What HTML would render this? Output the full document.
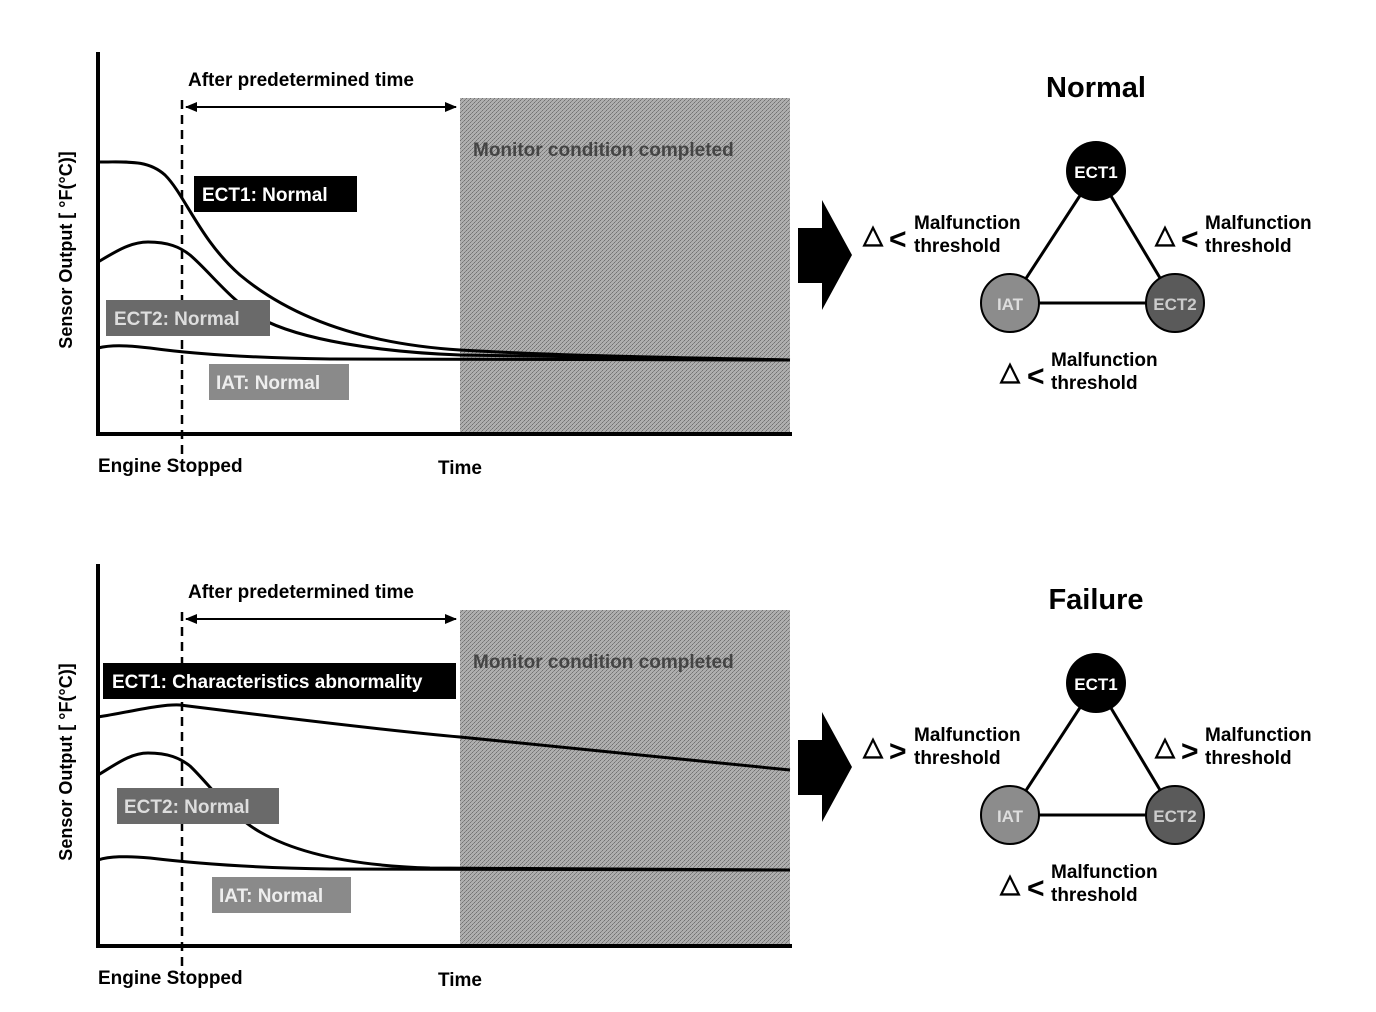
<!DOCTYPE html>
<html><head><meta charset="utf-8"><style>body{margin:0;background:#fff}svg{display:block}text{font-family:"Liberation Sans",Arial,sans-serif;font-weight:bold}</style></head><body>
<svg width="1376" height="1012" viewBox="0 0 1376 1012" xmlns="http://www.w3.org/2000/svg">
<defs>
<pattern id="dots" width="4" height="4" patternUnits="userSpaceOnUse"><rect width="4" height="4" fill="#bbb"/><rect x="0" y="0" width="1" height="1" fill="#444"/><rect x="2" y="2" width="1" height="1" fill="#444"/><rect x="1" y="3" width="1" height="1" fill="#666"/><rect x="3" y="1" width="1" height="1" fill="#666"/></pattern>
<marker id="ah" markerWidth="12" markerHeight="10" refX="11" refY="5" orient="auto" markerUnits="userSpaceOnUse"><path d="M0,0 L12,5 L0,10 z" fill="#000"/></marker>
<marker id="ahs" markerWidth="12" markerHeight="10" refX="1" refY="5" orient="auto" markerUnits="userSpaceOnUse"><path d="M12,0 L0,5 L12,10 z" fill="#000"/></marker>
<g id="panel">
<rect x="460" y="98" width="330" height="336" fill="#a0a0a0"/>
<rect x="460" y="98" width="330" height="336" fill="url(#dots)" opacity="0.5"/>
<text x="473" y="156" font-size="19" fill="#444">Monitor condition completed</text>
<line x1="98" y1="52" x2="98" y2="436" stroke="#000" stroke-width="4"/>
<line x1="96" y1="434" x2="792" y2="434" stroke="#000" stroke-width="4"/>
<line x1="182" y1="100" x2="182" y2="456" stroke="#000" stroke-width="2.5" stroke-dasharray="9,6"/>
<line x1="186" y1="107" x2="456" y2="107" stroke="#000" stroke-width="2" marker-end="url(#ah)" marker-start="url(#ahs)"/>
<text x="188" y="86" font-size="19">After predetermined time</text>
<text x="98" y="472" font-size="19">Engine Stopped</text>
<text x="438" y="474" font-size="19">Time</text>
<text transform="translate(72,250) rotate(-90)" text-anchor="middle" font-size="18">Sensor Output [ °F(°C)]</text>
</g>
</defs>
<use href="#panel"/>
<use href="#panel" y="512"/>
<g fill="none" stroke="#000" stroke-width="3">
<path d="M98,162 C130,162 148,160 165,175 C185,195 200,240 240,275 C300,325 380,345 460,350 C560,356 700,358 790,360"/>
<path d="M98,262 C115,252 130,242 148,242 C168,242 180,247 190,255 C210,272 230,300 260,318 C300,340 380,352 460,355 L790,360"/>
<path d="M98,348 C110,345 125,345 150,348 C200,355 260,358 330,359 L790,360"/>
<path d="M98,717 C130,712 160,704 180,705 C260,715 380,730 460,737 C600,750 700,760 790,770"/>
<path d="M98,775 C115,765 130,753 148,753 C168,753 180,758 190,766 C210,785 230,815 260,832 C300,855 360,866 430,868 L790,870"/>
<path d="M98,860 C110,856 125,856 150,858 C200,864 260,868 330,869 L790,870"/>
</g>
<rect x="194" y="176" width="163" height="36" fill="#000"/><text x="202" y="201" font-size="19" fill="#fff">ECT1: Normal</text>
<rect x="106" y="300" width="164" height="36" fill="#6a6a6a"/><text x="114" y="325" font-size="19" fill="#ddd">ECT2: Normal</text>
<rect x="209" y="364" width="140" height="36" fill="#8a8a8a"/><text x="216" y="389" font-size="19" fill="#eee">IAT: Normal</text>
<rect x="103" y="663" width="353" height="36" fill="#000"/><text x="112" y="688" font-size="19" fill="#fff">ECT1: Characteristics abnormality</text>
<rect x="117" y="788" width="162" height="36" fill="#6a6a6a"/><text x="124" y="813" font-size="19" fill="#ddd">ECT2: Normal</text>
<rect x="212" y="877" width="139" height="36" fill="#8a8a8a"/><text x="219" y="902" font-size="19" fill="#eee">IAT: Normal</text>
<path d="M798,228 L822,228 L822,200 L852,255 L822,310 L822,283 L798,283 z"/>
<path d="M798,740 L822,740 L822,712 L852,767 L822,822 L822,795 L798,795 z"/>
<g id="tri">
<line x1="1096" y1="171" x2="1010" y2="303" stroke="#000" stroke-width="3"/>
<line x1="1096" y1="171" x2="1175" y2="303" stroke="#000" stroke-width="3"/>
<line x1="1010" y1="303" x2="1175" y2="303" stroke="#000" stroke-width="3"/>
<circle cx="1096" cy="171" r="30" fill="#000"/>
<circle cx="1010" cy="303" r="29" fill="#8c8c8c" stroke="#000" stroke-width="2"/>
<circle cx="1175" cy="303" r="29" fill="#5a5a5a" stroke="#000" stroke-width="2"/>
<text x="1096" y="178" font-size="17" fill="#fff" text-anchor="middle">ECT1</text>
<text x="1010" y="310" font-size="17" fill="#ddd" text-anchor="middle">IAT</text>
<text x="1175" y="310" font-size="17" fill="#ccc" text-anchor="middle">ECT2</text>
<text x="1000" y="380" font-size="26" font-weight="normal">△</text>
<text x="1027" y="386" font-size="30" font-weight="normal">&lt;</text>
<text x="1051" y="366" font-size="19">Malfunction</text>
<text x="1051" y="389" font-size="19">threshold</text>
</g>
<use href="#tri" y="512"/>
<text x="1096" y="97" font-size="29" text-anchor="middle">Normal</text>
<text x="1096" y="609" font-size="29" text-anchor="middle">Failure</text>
<g font-size="19">
<text x="863" y="243" font-size="26" font-weight="normal">△</text><text x="889" y="249" font-size="30" font-weight="normal">&lt;</text>
<text x="914" y="229">Malfunction</text><text x="914" y="252">threshold</text>
<text x="1155" y="243" font-size="26" font-weight="normal">△</text><text x="1181" y="249" font-size="30" font-weight="normal">&lt;</text>
<text x="1205" y="229">Malfunction</text><text x="1205" y="252">threshold</text>
<text x="863" y="755" font-size="26" font-weight="normal">△</text><text x="889" y="761" font-size="30" font-weight="normal">&gt;</text>
<text x="914" y="741">Malfunction</text><text x="914" y="764">threshold</text>
<text x="1155" y="755" font-size="26" font-weight="normal">△</text><text x="1181" y="761" font-size="30" font-weight="normal">&gt;</text>
<text x="1205" y="741">Malfunction</text><text x="1205" y="764">threshold</text>
</g>
</svg>
</body></html>
